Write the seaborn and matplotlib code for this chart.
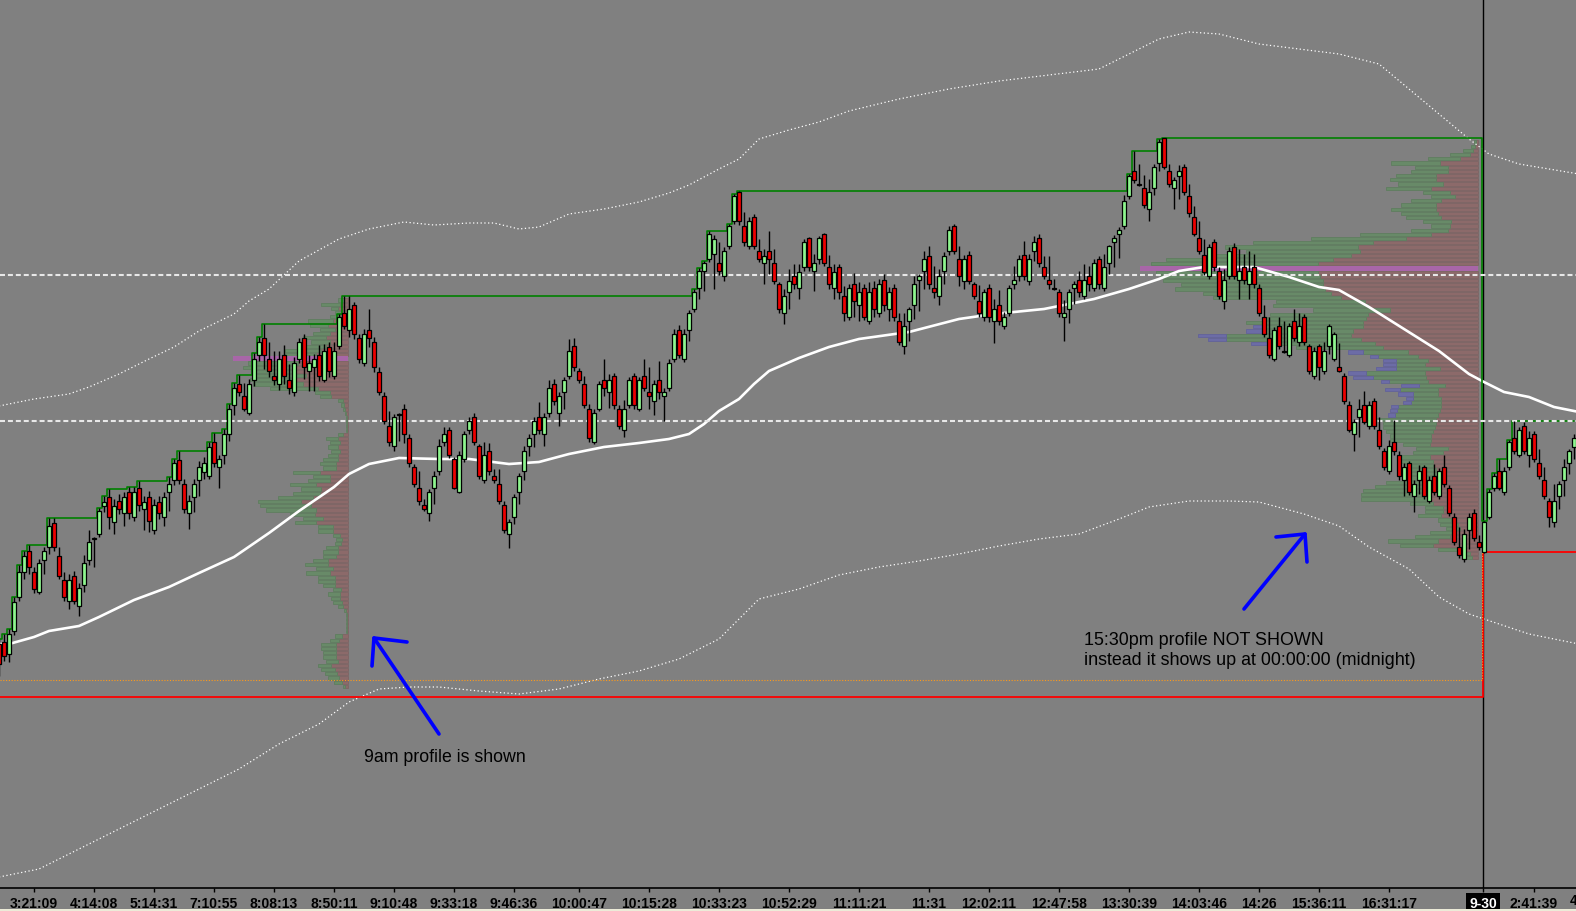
import numpy as np
import pandas as pd
import matplotlib
matplotlib.use("Agg")
import matplotlib.pyplot as plt
import seaborn as sns

# ---------------- data (prices in chart units) ----------------
OPEN = [355,357,345,368,402,427,448,427,407,439,452,476,443,419,398,423,393,414,439,460,
465,493,502,477,498,486,507,482,511,490,502,469,497,482,507,519,539,515,486,502,
519,527,523,557,532,544,565,594,615,603,586,619,644,661,640,623,615,644,619,607,
640,661,628,632,644,619,652,623,653,686,669,694,661,636,669,657,627,603,573,553,
585,590,561,532,511,494,486,511,528,557,569,540,507,540,569,582,553,519,548,523,
515,494,465,482,507,528,553,565,582,565,586,615,586,607,623,653,628,615,590,557,
590,619,607,623,590,569,594,623,590,623,607,598,619,603,611,640,669,640,669,690,
711,728,740,745,736,723,753,778,807,773,753,782,748,736,748,736,715,686,707,723,
711,732,761,728,740,765,732,711,732,703,682,715,694,711,678,711,686,719,690,711,
678,653,678,694,719,728,743,711,703,728,748,773,740,718,744,715,698,682,711,678,
694,673,686,715,723,744,718,748,761,732,719,711,707,682,690,711,719,703,723,711,
740,711,736,757,765,773,803,828,815,811,790,811,836,861,828,811,823,832,803,782,
761,744,723,757,728,698,723,752,719,732,715,732,711,682,661,640,673,648,644,678,
657,682,653,623,653,628,653,640,632,623,594,565,582,594,573,598,569,548,528,557,
544,519,536,503,519,532,498,523,503,532,511,482,452,440,469,486,457,447,482,511,
528,507,532,561,544,573,544,565,536,519,498,477,503,519,536,552]
HIGH = [360,365,370,402,434,448,454,432,440,452,481,481,452,427,425,428,416,444,469,462,
491,503,510,500,505,507,512,512,518,503,508,500,503,507,522,540,548,520,504,520,
538,542,557,566,544,570,595,616,624,616,620,646,662,675,657,648,648,654,635,642,
661,665,644,645,654,655,657,657,685,703,703,697,665,670,690,662,632,607,588,585,
586,595,565,535,528,500,510,528,560,572,572,542,548,568,582,586,555,557,556,530,
530,498,480,505,526,553,565,582,597,586,619,620,607,622,660,661,631,623,595,590,
618,640,625,626,594,599,622,626,622,640,632,619,638,611,640,670,674,670,689,710,
731,738,768,764,757,752,775,805,808,787,782,785,760,750,768,750,717,710,730,735,
735,760,762,745,763,766,744,735,735,713,715,726,717,715,717,718,720,725,712,715,
686,686,692,723,725,748,753,733,730,747,773,775,753,744,748,717,714,710,715,700,
709,687,714,733,744,758,745,763,765,743,743,720,710,699,710,718,728,735,733,740,
743,745,754,764,772,804,825,848,835,824,820,835,860,861,835,822,834,835,815,793,
778,760,755,760,732,730,752,756,750,745,748,745,715,694,682,672,682,678,676,690,
686,685,655,652,655,657,675,667,656,626,598,580,600,608,598,601,582,551,559,579,
548,536,538,519,534,534,523,535,531,544,514,486,472,470,486,490,464,478,510,526,
540,532,559,578,572,577,568,568,550,532,501,515,518,540,550,565]
LOW = [323,338,337,364,398,420,425,406,405,425,445,448,420,398,390,395,383,407,434,432,
462,487,470,465,485,473,480,478,488,469,467,465,480,473,488,514,515,486,470,487,
503,520,520,532,511,535,558,584,603,588,584,613,638,630,622,614,609,615,605,603,
636,620,608,608,618,617,622,620,650,670,662,660,636,633,652,627,604,575,553,548,
558,556,532,512,494,488,478,495,524,553,541,510,506,537,565,554,520,516,524,516,
495,466,451,475,495,519,543,552,565,553,582,594,573,590,620,628,616,591,557,555,
588,603,591,590,570,562,591,590,588,608,590,584,600,578,608,637,641,637,658,687,
700,708,737,710,724,718,750,775,774,753,750,750,737,715,725,715,686,675,690,710,
700,728,728,708,735,733,710,700,700,678,679,682,678,679,675,682,682,688,678,678,
654,645,658,680,688,710,710,701,694,715,744,745,713,710,715,700,682,678,677,656,
674,670,683,710,718,719,714,738,732,720,710,709,682,658,676,695,702,700,708,708,
710,708,725,732,741,770,800,816,813,791,778,804,828,830,812,790,800,804,782,763,
745,724,720,728,700,690,720,720,700,715,700,711,683,662,641,638,650,646,642,658,
653,654,625,620,619,625,645,638,627,595,567,548,562,575,570,570,550,529,525,544,
519,503,504,487,505,500,496,504,500,512,483,454,441,437,450,458,449,446,480,508,
509,504,529,545,542,545,532,537,520,500,472,472,490,503,525,540]
CLOSE = [335,343,365,397,427,443,432,410,436,448,473,452,423,402,419,398,411,436,457,461,
488,497,482,493,490,502,486,507,494,497,478,494,486,502,515,536,519,490,498,515,
532,536,552,536,540,565,590,611,607,590,615,640,657,644,628,619,640,623,611,636,
657,632,636,640,623,648,628,648,682,673,690,665,640,665,661,632,607,578,557,582,
584,565,536,515,498,490,507,523,553,565,544,511,544,565,578,557,523,544,528,519,
498,469,477,502,523,548,561,578,569,582,611,598,603,619,648,632,619,594,561,586,
615,611,619,594,573,590,619,594,619,611,603,615,607,607,636,665,644,665,686,707,
728,736,765,760,728,748,773,803,778,757,778,753,740,743,740,718,690,703,718,715,
727,757,732,736,761,736,715,727,707,686,711,698,707,682,707,690,715,694,707,682,
657,673,690,715,723,740,715,707,723,743,769,748,723,740,718,703,686,707,682,690,
678,682,711,719,740,723,740,757,736,723,715,710,686,686,707,715,707,719,715,736,
715,732,753,761,769,798,823,819,814,794,807,832,857,832,815,819,828,807,786,765,
748,727,752,732,703,719,748,723,728,719,728,715,686,665,644,669,653,647,673,661,
673,657,628,648,632,648,673,665,628,598,569,577,590,577,594,573,553,532,553,548,
523,532,507,515,528,503,519,507,528,515,486,457,444,465,482,461,452,477,507,523,
511,528,557,548,569,548,561,540,523,503,482,498,515,532,548,561]
SESSION_START = [0, 297]

TICK_BARS = [7, 19, 31, 43, 55, 67, 79, 91, 103, 116, 130, 144, 158, 172, 186, 198,
             212, 226, 240, 252, 264, 278, 296.8, 307]
TICK_LABELS = ["3:21:09", "4:14:08", "5:14:31", "7:10:55", "8:08:13", "8:50:11", "9:10:48",
               "9:33:18", "9:46:36", "10:00:47", "10:15:28", "10:33:23", "10:52:29", "11:11:21",
               "11:31", "12:02:11", "12:47:58", "13:30:39", "14:03:46", "14:26", "15:36:11",
               "16:31:17", "9-30", "2:41:39"]
EDGE_TICK_BAR = 319
EDGE_TICK_LABEL = "4:05:52"

MA_BARS = [0, 2, 7, 10, 16, 20, 27, 34, 40, 47, 54, 60, 67, 70, 74, 80, 88, 94, 102, 108, 114,
           121, 128, 134, 138, 141, 144, 148, 151, 154, 160, 166, 172, 182, 192, 199, 209, 219,
           226, 232, 236, 241, 251, 258, 264, 268, 274, 281, 288, 294, 297, 301, 306, 311, 316]
MA_VALUES = [355, 355, 362, 368, 373, 382, 399, 412, 426, 442, 466, 488, 512, 525, 535, 541, 540,
             540, 535, 537, 545, 552, 556, 560, 565, 575, 588, 600, 615, 628, 641, 652, 660, 667,
             680, 685, 690, 700, 710, 720, 728, 732, 732, 722, 712, 709, 692, 670, 648, 625, 617,
             607, 602, 592, 587]
UPPER_BARS = [0, 7, 14, 18, 24, 30, 35, 40, 47, 50, 54, 60, 68, 74, 81, 87, 94, 99, 104, 108, 114,
              121, 128, 134, 138, 141, 144, 148, 152, 158, 164, 170, 180, 190, 200, 210, 220, 226,
              232, 238, 244, 252, 260, 268, 276, 282, 288, 294, 298, 304, 316]
UPPER_VALUES = [593, 600, 605, 612, 625, 640, 652, 668, 685, 698, 710, 738, 760, 770, 777, 774, 776,
                776, 770, 772, 785, 790, 797, 806, 814, 822, 830, 840, 860, 869, 877, 888, 900, 910,
                918, 924, 930, 945, 960, 967, 965, 955, 950, 945, 935, 910, 885, 860, 845, 835, 825]
LOWER_BARS = [0, 8, 16, 24, 32, 40, 48, 56, 64, 70, 76, 82, 88, 96, 104, 112, 120, 128, 136, 144,
              152, 160, 168, 176, 184, 192, 200, 208, 216, 224, 230, 238, 246, 252, 261, 268, 274,
              282, 288, 294, 300, 306, 316]
LOWER_VALUES = [122, 130, 150, 170, 190, 210, 230, 255, 275, 297, 310, 312, 312, 308, 305, 310, 320,
                328, 340, 360, 400, 410, 424, 432, 438, 445, 453, 460, 465, 480, 492, 498, 498, 497,
                485, 473, 452, 430, 402, 385, 375, 365, 355]

REF_LEVELS = [724, 578]          # dashed reference lines
PRIOR_LOW = [302, 447]           # red level per session
ORANGE_LEVEL = 319

LEVEL_STEP = 4.2
VOL_TO_BAR = 0.2
P1_ANCHOR, P1_TOP = 69.8, 699
P1_BUY = [6,19,7,7,10,25,18,15,17,23, 19,20,36,31,55,50,53,41,50,46, 50,48,15,11,5,3,2,1,1,1,
          1,1,5,12,10,10,9,10,15,16, 13,27,17,22,26,20,27,35,43,51, 50,25,20,21,15,15,7,6,6,12,
          15,13,15,23,17,24,17,17,12,8, 12,9,9,5,2,1,1,1,1,1, 7,9,15,15,13,13,12,13,14,12, 11,8,2]
P1_SELL = [4,8,10,6,8,15,20,13,18,22, 18,22,27,32,60,50,52,52,42,52, 45,30,18,17,5,4,3,2,1,1,
           1,1,5,10,8,10,8,10,10,12, 12,28,18,18,32,27,28,35,47,37, 32,33,25,32,15,15,8,6,7,10,
           10,12,20,20,15,18,13,13,13,7, 8,8,6,5,2,1,1,1,1,1, 6,9,12,12,12,12,10,17,13,11, 9,6,3]
P2_ANCHOR, P2_TOP = 295.8, 857
P2_BUY = [2,4,10,20,32,49,33,37,40,46, 45,45,27,24,30,35,45,37,35,28, 19,37,71,95,120,133,114,140,167,167,
          173,162,160,160,142,150,128,128,89,95, 77,98,101,117,100,87,125,135,106,87,
          45,40,32,29,44,59,53,39,26,38, 25,28,30,43,43,43,60,53,52,47, 41,41,27,32,30,30,33,30,35,38,
          35,47,61,67,69,67,23,18,18,23, 13,18,14,25,35,50,33,20,7,6]
P2_SELL = [2,3,5,8,18,38,30,30,42,42, 35,47,28,23,37,42,42,40,37,27, 28,30,47,72,105,120,118,127,145,160,
           165,160,158,155,155,153,147,137,113,110, 88,110,112,115,115,125,127,117,103,95,
           70,60,50,53,38,53,52,50,33,40, 40,37,37,37,38,40,42,42,43,45, 47,47,48,30,35,48,45,45,42,35,
           32,45,42,48,48,50,45,35,35,37, 27,20,18,23,28,40,45,20,8,6]
P2_OTHER = ([0] * 44 + [10,20,28,18,18,0,15,8,13,13,20,18,20,8,18,15,15,7,8,7,7,7] + [0] * 34)

assert len(OPEN) == len(HIGH) == len(LOW) == len(CLOSE), (len(OPEN), len(HIGH), len(LOW), len(CLOSE))

# ---------------- styling ----------------
sns.set_theme(style="white")
plt.rcParams['font.family'] = ['Liberation Sans', 'DejaVu Sans']
BG = '#808080'
GREEN_C, RED_C = '#8ef58e', '#ee0000'
PG, PR, PB, PM = '#688a68', '#8c6a6a', '#6c6ca6', '#a866a8'

fig = plt.figure(figsize=(15.76, 9.12), dpi=100, facecolor=BG)
ax = fig.add_axes([0, 23 / 912, 1, 889 / 912], facecolor=BG)
ax.grid(False)

df = pd.DataFrame({'bar': np.arange(len(OPEN)), 'open': OPEN, 'high': HIGH,
                   'low': LOW, 'close': CLOSE})
df['session'] = np.searchsorted(SESSION_START, df['bar'], side='right') - 1
df['run_high'] = df.groupby('session')['high'].cummax()
brk = SESSION_START[1] - 0.2
XL = (0.2, 315.4)


def draw_profile(anchor, top, buy, sell, other=None):
    buy = np.asarray(buy, float)
    sell = np.asarray(sell, float)
    other = np.zeros_like(buy) if other is None else np.asarray(other, float)
    lv = top - LEVEL_STEP * np.arange(len(buy))
    tot = buy + sell + other
    poc = int(np.argmax(tot))
    m = np.arange(len(buy)) != poc
    kw = dict(height=3.3, linewidth=0.6, zorder=1)
    ax.barh(lv[m], sell[m] * VOL_TO_BAR, left=anchor - sell[m] * VOL_TO_BAR,
            color=PR, edgecolor='#7e6464', **kw)
    ax.barh(lv[m], buy[m] * VOL_TO_BAR, left=anchor - (sell[m] + buy[m]) * VOL_TO_BAR,
            color=PG, edgecolor='#5f7d5f', **kw)
    mo = m & (other > 0)
    ax.barh(lv[mo], other[mo] * VOL_TO_BAR, left=anchor - tot[mo] * VOL_TO_BAR,
            color=PB, edgecolor='#62629a', **kw)
    ax.barh(lv[poc], tot[poc] * VOL_TO_BAR, left=anchor - tot[poc] * VOL_TO_BAR,
            height=5.0, color=PM, edgecolor=PM, linewidth=0, zorder=1.1)
    return lv


lv1 = draw_profile(P1_ANCHOR, P1_TOP, P1_BUY, P1_SELL)
ax.plot([P1_ANCHOR - 0.25] * 2, [lv1[-1], lv1[0]], color='#8f8f8f', lw=1.6, zorder=0.9)
draw_profile(P2_ANCHOR, P2_TOP, P2_BUY, P2_SELL, P2_OTHER)

# bands and moving average
sns.lineplot(x=UPPER_BARS, y=UPPER_VALUES, ax=ax, color='white', lw=0.9,
             linestyle=(0, (1.0, 2.0)), zorder=2)
sns.lineplot(x=LOWER_BARS, y=LOWER_VALUES, ax=ax, color='white', lw=0.9,
             linestyle=(0, (1.0, 2.0)), zorder=2)
sns.lineplot(x=MA_BARS, y=MA_VALUES, ax=ax, color='white', lw=1.9, zorder=3.2)

# session lines
ax.axvline(brk, color='black', lw=1.0, zorder=2.5)
ax.plot([XL[0], brk, brk, XL[1]], [PRIOR_LOW[0], PRIOR_LOW[0], PRIOR_LOW[1], PRIOR_LOW[1]],
        color='#ff0000', lw=1.3, zorder=3)
ax.plot([XL[0], brk - 0.25, brk - 0.25], [ORANGE_LEVEL, ORANGE_LEVEL, PRIOR_LOW[1]],
        color='#ff9a1a', lw=0.8, linestyle=(0, (1, 1.5)), zorder=3)
ax.plot(df['bar'], df['run_high'], drawstyle='steps-mid', color='#008000', lw=1.2, zorder=3.4)

for lvl in REF_LEVELS:
    ax.axhline(lvl, color='#e8e8e8', lw=1.5, linestyle=(0, (2.4, 1.4)), zorder=3.6)

# candles
up = df['close'] >= df['open']
body_lo = np.minimum(df['open'], df['close'])
body_h = np.maximum((df['close'] - df['open']).abs(), 1.0)
ax.vlines(df['bar'], df['low'], df['high'], color='black', lw=1.0, zorder=4)
ax.bar(df['bar'], body_h, bottom=body_lo, width=0.62,
       color=np.where(up, GREEN_C, RED_C), edgecolor='black', linewidth=0.9, zorder=5)

# annotations
blue = dict(color='#0000ff', lw=2.6, solid_capstyle='round', zorder=7)
ax.plot([88, 75], [265, 361], **blue)
ax.plot([74.6, 75, 81.6], [333, 361, 357], **blue)
ax.plot([249, 261.2], [390, 465], **blue)
ax.plot([255.4, 261.2, 261.6], [462, 465, 437], **blue)
ax.text(73.0, 238, "9am profile is shown", fontsize=12.8, color='black', va='baseline', zorder=8)
ax.text(217.0, 355, "15:30pm profile NOT SHOWN", fontsize=12.9, color='black', va='baseline', zorder=8)
ax.text(217.0, 335, "instead it shows up at 00:00:00 (midnight)", fontsize=12.9, color='black',
        va='baseline', zorder=8)

# axes
ax.set_xlim(*XL)
ax.set_ylim(111, 1000)
ax.set_yticks([])
ax.set_xticks(TICK_BARS)
ax.set_xticklabels(TICK_LABELS)
ax.tick_params(axis='x', length=3, width=1, color='black', pad=2.5, labelsize=10,
               labelcolor='black', direction='out', bottom=True)
for t in ax.get_xticklabels():
    t.set_fontweight('bold')
    if t.get_text() == '9-30':
        t.set_color('white')
        t.set_bbox(dict(facecolor='black', edgecolor='none', boxstyle='square,pad=0.2'))
ax.text(EDGE_TICK_BAR, -0.0135, EDGE_TICK_LABEL, transform=ax.get_xaxis_transform(),
        ha='center', va='center', fontsize=10, fontweight='bold', color='black', clip_on=False)
for s in ['left', 'right', 'top']:
    ax.spines[s].set_visible(False)
ax.spines['bottom'].set_color('black')
ax.spines['bottom'].set_linewidth(1.2)
ax.set_xlabel('')
ax.set_ylabel('')

fig.patches.append(plt.Rectangle((0, 0), 1, 2 / 912, transform=fig.transFigure,
                                 facecolor='#ecebd8', edgecolor='none'))
fig.savefig('out.png', dpi=100, facecolor=BG)
